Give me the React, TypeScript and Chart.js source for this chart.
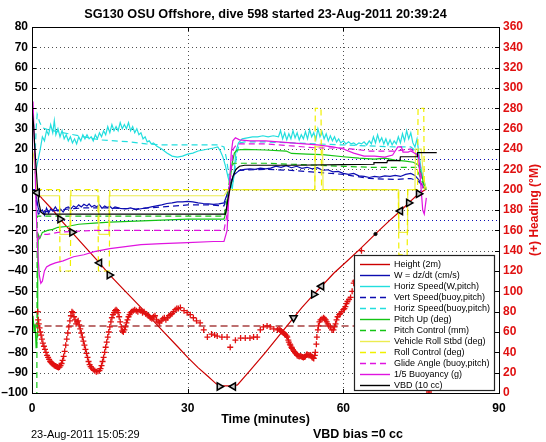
import { useEffect, useRef } from 'react';
import { Chart, registerables } from 'chart.js';

Chart.register(...registerables);

type P = [number, number];

const TITLE = 'SG130 OSU Offshore, dive 598 started 23-Aug-2011 20:39:24';
const X_TITLE = 'Time (minutes)';
const Y2_TITLE = '(+) Heading (\u00B0M)';
const FOOT_LEFT = '23-Aug-2011 15:05:29';
const FOOT_RIGHT = 'VBD bias =0 cc';

const X_TICKS = [0, 30, 60, 90];
const Y_RANGE = [-100, 80];
const Y_STEP = 10;
const Y2_RANGE = [0, 360];
const Y2_STEP = 20;

// Height (2 m units)
const HEIGHT_2M: P[] = [
  [0, 0], [0.5, -0.5], [1, -1.5], [2, -4.5], [4, -10], [5.4, -14.5], [7.7, -21], [10, -27.5], [13, -36], [15, -42],
  [18, -50], [21.4, -59], [25, -69], [28, -77], [30, -82.5], [32, -87.5], [34, -92], [35.5, -95.5], [36.5, -96.5],
  [38.5, -96.5], [39.6, -96], [42, -89], [45, -80], [48, -70.5], [50.4, -63], [52, -58], [54.3, -51.5], [55.8, -47.5],
  [58.2, -41], [61, -34.5], [63.3, -29], [66.5, -21], [69, -15], [71, -10.5], [72.6, -6.5], [74.5, -2], [75.8, 0],
];

const W_DZDT: P[] = [
  [0, 0], [0.5, 0], [0.8, -3], [1.2, -9], [1.5, -11], [2, -10], [2.4, -12.5], [2.8, -9], [3.2, -11.5], [3.6, -9.5],
  [4, -10.5], [4.5, -8.5], [5, -10.5], [5.5, -9.5], [6, -11], [6.5, -9], [7, -8.5], [7.5, -9.5], [8, -8], [8.5, -8.8],
  [9, -7.5], [9.5, -8.5], [10, -7.2], [10.6, -8], [11, -7], [11.5, -8.5], [12, -7.8], [12.5, -8.4], [13, -7.5],
  [13.5, -9.2], [14, -8], [14.5, -8.8], [15, -8.2], [15.5, -9.4], [16, -8.5], [17, -9.2], [18, -9.5], [19, -9],
  [20, -9.8], [21, -9.4], [22, -9], [23, -8.5], [24, -8], [25, -7.5], [26, -6.8], [27, -6.5], [28, -6], [29, -6],
  [30, -5.8], [31, -6], [32, -6.5], [33, -6.8], [34, -7], [35, -7.2], [36, -7], [37, -6.5], [37.5, -3], [38, 1],
  [38.5, 5], [39, 7.5], [39.5, 8.5], [40, 9.5], [41, 10], [42, 10.2], [43, 10], [44, 10.6], [45, 10.2], [46, 10.6],
  [47, 11.6], [48, 11], [49, 11.8], [50, 10.8], [51, 11.5], [52, 10.5], [53, 11], [54, 10.2], [55, 10.8], [56, 9.5],
  [57, 9.8], [58, 8.8], [59, 9], [60, 8], [61, 7.5], [62, 8], [63, 6.8], [64, 6.5], [65, 6], [66, 6.5], [67, 6.2],
  [68, 6.8], [69, 6.5], [70, 7], [71, 6.5], [72, 7.5], [73, 8], [73.8, 7], [74.5, 5], [75, 3], [75.5, 1], [76, 0],
];

const HSPD_W: P[] = [
  [0.5, 8], [0.8, 10], [1.2, 15], [1.6, 20], [2, 26], [2.4, 24], [2.8, 29], [3.2, 27], [3.6, 32], [4, 28], [4.3, 34],
  [4.6, 27], [5, 30], [5.4, 26], [5.8, 29], [6.2, 25], [6.6, 27], [7, 24], [7.4, 26], [7.8, 23], [8.2, 25], [8.6, 22.5],
  [9, 26], [9.4, 24], [9.8, 27], [10.2, 25], [10.6, 27], [11, 25], [11.4, 26], [11.8, 24], [12.2, 27], [12.6, 25],
  [13, 28], [13.4, 26], [13.8, 29], [14.2, 27], [14.6, 31], [15, 28], [15.4, 32], [15.8, 29], [16.2, 31], [16.6, 29],
  [17, 33], [17.4, 30], [17.8, 32], [18.2, 30], [18.6, 33], [19, 29], [19.4, 31], [19.8, 28], [20.2, 30], [20.6, 27],
  [21, 28], [21.4, 25], [21.8, 26], [22.2, 23.5], [22.6, 24], [23, 22.5], [23.4, 23], [24, 21.5], [25, 20], [26, 18],
  [27, 16.5], [28, 16], [29, 16.5], [30, 17.5], [31, 18], [32, 19], [33, 19.5], [34, 20], [35, 20.5], [35.8, 21],
  [36.3, 19], [36.8, 16], [37.3, 11.5], [37.8, 6], [38.3, 2], [38.6, 0.5], [39, 10], [39.3, 19], [39.8, 23], [40.5, 25],
  [41.5, 25.5], [42.5, 26], [43.5, 26], [44.5, 26.5], [45.5, 26], [46.5, 26.5], [47.5, 26], [47.9, 29], [48.3, 25],
  [48.7, 28], [49.1, 24.5], [49.5, 27.5], [49.9, 25], [50.3, 29], [50.7, 25.5], [51.1, 28], [51.5, 24.5], [51.9, 27],
  [52.3, 25], [52.7, 28.5], [53.1, 25], [53.5, 29.5], [53.9, 26], [54.3, 28], [54.7, 24.5], [55.1, 30], [55.5, 26],
  [55.9, 28.5], [56.3, 25], [56.7, 27.5], [57.1, 24], [57.5, 26.5], [57.9, 24], [58.3, 26], [58.7, 23.5], [59.1, 25],
  [59.5, 23], [60, 24], [60.5, 22.5], [61, 23.5], [61.5, 22.5], [62, 23], [62.5, 22], [63, 23], [63.5, 22.5], [64, 23.5],
  [64.5, 22], [65, 24], [65.4, 22.5], [65.8, 26], [66.2, 23], [66.6, 27], [67, 23.5], [67.4, 25.5], [67.8, 22.5],
  [68.2, 25], [68.6, 22], [69, 24.5], [69.4, 22], [69.8, 24], [70.2, 22.5], [70.6, 26], [71, 23], [71.4, 27.5], [71.8, 24],
  [72.2, 29], [72.6, 25], [73, 28], [73.4, 23], [73.8, 21], [74.2, 25], [74.6, 17], [75, 10], [75.4, 4], [75.8, 0],
];

const VSPD_BUOY: P[] = [
  [0.8, -5], [1.2, -12], [2, -11], [4, -10.5], [7, -9.5], [10, -9], [15, -9], [20, -9.5], [25, -8.5], [30, -7.5],
  [34, -7.5], [37, -8], [37.5, -4], [38.2, 3], [39, 8], [40, 9.5], [45, 10], [50, 9.5], [55, 8.5], [60, 7.5], [65, 5.5],
  [70, 5], [73, 5.5], [74.5, 4], [76, 0],
];

const HSPD_BUOY: P[] = [
  [0.5, 10], [0.8, 30], [1, 37], [1.5, 33], [2, 30.5], [3, 29.5], [5, 28.5], [8, 27], [10, 26], [13, 24.5], [16, 24],
  [19, 23.5], [22, 22.5], [25, 22], [30, 22], [34, 22], [36, 22], [37, 21], [37.5, 15], [38, 6], [38.6, 1], [39, 8],
  [39.5, 18], [40, 23], [41, 23.5], [45, 23.5], [50, 23], [55, 22.5], [60, 22], [65, 21.5], [70, 21], [73, 21],
  [74, 19], [75, 10], [76, 0],
];

const PITCH_UP: P[] = [
  [0.2, -62], [0.4, -70], [0.6, -66], [0.8, -78], [1, -72], [1.1, -40], [1.2, -22], [1.5, -24], [2, -21], [3, -20],
  [4, -19.5], [5, -18.5], [7, -18], [9, -17], [12, -16.5], [15, -16], [20, -15.5], [25, -15], [30, -14.5], [35, -14.5],
  [37, -14.5], [37.5, -10], [38, 0], [38.5, 12], [39, 18], [39.5, 19.5], [41, 19.8], [45, 19.5], [49, 19], [50, 17.8],
  [53, 17.5], [56, 17.2], [60, 16.2], [63, 15.5], [66, 15], [68, 15.5], [70, 14.5], [72, 14], [73.5, 13.5], [74.5, 12],
  [75.2, 6], [76, 0],
];

const PITCH_CTRL: P[] = [
  [0.2, -140], [0.9, -140], [1.0, -13], [5, -13], [10, -13], [20, -13], [30, -13], [37, -13], [37.6, -5], [38.2, 8],
  [38.8, 13], [45, 13], [50, 12.5], [55, 12], [60, 11.5], [65, 11], [70, 11], [74, 11], [75, 5], [76, 0],
];

const ROLL_STBD: P[] = [
  [0, 20], [0.3, 17], [0.5, 12], [0.8, 3], [1, -3], [2, -3], [4, -3], [5.3, -3], [5.4, -22], [7.3, -22], [7.4, -3],
  [12.8, -3], [12.9, -22], [14.8, -22], [14.9, -3], [20, -3], [25, -3], [30, -3], [37, -3], [37.8, 0], [45, 0],
  [54.5, 0], [54.6, 21], [56, 21], [56.1, 0], [65, 0], [70.6, 0], [70.7, -21], [72.3, -21], [72.4, 0], [73.8, 0],
  [73.9, 20], [75, 20], [75.5, 5], [76, 0],
];

const ROLL_CTRL: P[] = [
  [0.8, 0], [5.3, 0], [5.4, -40], [7.4, -40], [7.5, 0], [12.7, 0], [12.8, -40], [14.9, -40], [15, 0], [37, 0],
  [54.5, 0], [54.6, 40], [55.7, 40], [55.8, 0], [70.6, 0], [70.7, -32], [72.3, -32], [72.4, 0], [74.3, 0],
  [74.4, 40], [75.5, 40], [75.6, 0],
];

const GLIDE_ANGLE: P[] = [
  [1, -25], [1.5, -23], [2, -22], [3, -22], [5, -21], [8, -20.5], [12, -20], [20, -20], [30, -20], [37, -20],
  [37.6, -12], [38.2, 5], [38.8, 20], [39.5, 22.5], [45, 22.5], [50, 21.5], [55, 20.5], [60, 20.5], [65, 19],
  [70, 19], [73, 20], [74.5, 17], [75.3, 0],
];

const BUOYANCY_5: P[] = [
  [0, 44], [0.2, 43], [0.5, 20], [0.8, -10], [1.1, -30], [1.4, -42], [1.7, -46], [2, -45], [2.4, -40], [2.8, -38],
  [3.5, -37], [4.5, -36], [6, -35], [8, -33], [10, -32], [12, -30.5], [15, -29], [18, -28], [21, -27], [25, -26.5],
  [30, -26], [35, -25.5], [37, -25.5], [37.6, -20], [38, 0], [38.4, 18], [38.7, 24], [39.2, 25.5], [40, 24.5],
  [42, 24], [45, 24], [50, 23], [55, 22], [58, 21], [60, 20], [62, 18], [64, 16.5], [66, 16.5], [68, 16], [69.5, 17],
  [70, 19], [70.5, 21], [71.2, 21], [71.5, 18.5], [72.5, 18.5], [73, 19], [74, 17.5], [74.5, 16], [75, 0],
  [75.3, -10], [75.6, -12], [76, -4],
];

const VBD_10CC: P[] = [
  [0, 40], [0.3, 32], [0.6, 18], [1, 3], [1.3, -6], [1.7, -11], [2.2, -12], [10, -12], [20, -12], [30, -12], [37, -12],
  [37.3, -12], [37.8, -4], [38.3, 2], [38.8, 7], [39.3, 10], [40, 11.5], [41, 12], [50, 12], [60, 12.3], [65.8, 12.5],
  [65.9, 13.3], [68.4, 13.3], [68.5, 14.3], [70.9, 14.3], [71, 16.2], [74.2, 16.2], [74.3, 18.2], [78, 18.2],
];

const W_TARGET = [15, -15];
const HEADING_TARGET = 66;
const HEADING_SPAN = [0.3, 76];

const HEADING: P[] = [
  [1.1, 80], [1.2, 72], [1.3, 68], [1.45, 64], [1.6, 60], [1.75, 57], [1.9, 53], [2.1, 49], [2.3, 46], [2.5, 43],
  [2.7, 40], [2.9, 37], [3.1, 35], [3.3, 33], [3.5, 31], [3.7, 30], [3.9, 29], [4.1, 28], [4.3, 27], [4.5, 26.5],
  [4.7, 26], [4.9, 25.5], [5.1, 25], [5.3, 25.5], [5.5, 27], [5.7, 29], [5.9, 32], [6.1, 36], [6.3, 41], [6.5, 47],
  [6.7, 53], [6.9, 59], [7.1, 65], [7.3, 71], [7.5, 76], [7.7, 80], [7.9, 79], [8.1, 75], [8.3, 72], [8.5, 68],
  [8.7, 70], [8.9, 71], [9.1, 67], [9.3, 63], [9.5, 59], [9.7, 55], [9.9, 51], [10.1, 47], [10.3, 43], [10.5, 39],
  [10.7, 35], [10.9, 31], [11.1, 28], [11.3, 26], [11.5, 24.5], [11.8, 23], [12.1, 22], [12.4, 21], [12.7, 21.5],
  [13, 22], [13.2, 24], [13.4, 27], [13.6, 31], [13.8, 35], [14, 40], [14.2, 45], [14.4, 50], [14.6, 55], [14.8, 60],
  [15, 65], [15.2, 70], [15.4, 74], [15.6, 77], [15.8, 79], [16, 81], [16.2, 82], [16.4, 81], [16.6, 79], [16.8, 75],
  [17, 70], [17.2, 65], [17.4, 61], [17.6, 60], [17.8, 62], [18, 65], [18.2, 69], [18.4, 72], [18.6, 75], [18.8, 77],
  [19, 79], [19.2, 80], [19.5, 81], [19.8, 82], [20.1, 81], [20.4, 80], [20.7, 82], [21, 81], [21.3, 79], [21.6, 80],
  [21.9, 78], [22.2, 77], [22.5, 76], [22.8, 74], [23.1, 73], [23.4, 75], [23.7, 76], [24, 72], [24.3, 70], [24.6, 69],
  [24.9, 71], [25.2, 73], [25.5, 74], [25.8, 72], [26.1, 74], [26.4, 76], [26.7, 77], [27, 78], [27.3, 80], [27.6, 82],
  [27.9, 83], [28.2, 83], [28.6, 84], [29.3, 81], [29.9, 79], [30.5, 77], [31.1, 74], [31.7, 71], [32.4, 69],
  [33.1, 62], [33.8, 55], [34.6, 58], [35.2, 57], [35.7, 56], [36.6, 55], [37.6, 55], [38.2, 45], [39.2, 52],
  [40.2, 54], [41.1, 54], [42, 54], [42.7, 55], [43.4, 55], [44, 62], [44.6, 65], [45.3, 66], [45.9, 65], [46.6, 63],
  [47.3, 62], [47.6, 63], [47.8, 62], [48, 61], [48.2, 60], [48.4, 59.5], [48.5, 59], [48.7, 58], [48.9, 57],
  [49.1, 56], [49.2, 55], [49.4, 52], [49.5, 50], [49.7, 48], [49.8, 47], [50, 45], [50.1, 44], [50.3, 42.5],
  [50.5, 41], [50.7, 40], [50.8, 39], [51, 38], [51.1, 37], [51.3, 36.5], [51.5, 36], [51.7, 36.5], [51.9, 36],
  [52.1, 35.5], [52.3, 35], [52.5, 35.5], [52.7, 36], [52.9, 37.5], [53, 38], [53.2, 37.5], [53.4, 37], [53.6, 37.5],
  [53.7, 37], [53.9, 36], [54, 35], [54.2, 34.5], [54.3, 34], [54.5, 37], [54.6, 40], [54.8, 48], [54.9, 55],
  [55.1, 62], [55.2, 66], [55.4, 70], [55.6, 72], [55.9, 73], [56.2, 74], [56.4, 73], [56.6, 72], [56.8, 70], [57, 68],
  [57.2, 66], [57.5, 65], [57.8, 62], [58.1, 62], [58.3, 65], [58.5, 68], [58.7, 72], [58.9, 75], [59.2, 77],
  [59.4, 78], [59.7, 80], [60, 82], [60.2, 83], [60.4, 85], [60.6, 88], [60.8, 90], [61.1, 92], [61.4, 94], [61.7, 100],
  [62, 108], [62.2, 110], [62.4, 111], [62.6, 115], [62.8, 120], [63, 126], [63.2, 132], [63.5, 140], [76.5, 1],
];

// depth markers on the height trace: [time, value, rotation]
const MARKERS: [number, number, number][] = [
  [1, -1.5, -90], [5.4, -14.5, 90], [7.7, -21, 90], [13, -36, -90], [14.9, -42, 90], [36.1, -96.8, 90],
  [38.8, -96.8, -90], [50.4, -63, 180], [54.3, -51.5, 90], [55.8, -47.5, -90], [71, -10.5, -90], [72.6, -6.5, 90],
  [74.5, -2, 90],
];
const DOTS: P[] = [[66.2, -21.8]];

const FONT = '"Liberation Sans", Arial, Helvetica, sans-serif';
const RED = '#cc0000';
const HEAD_RED = '#e01010';
const NAVY = '#0c0cb0';
const CYAN = '#22dede';
const GREEN = '#14c414';
const YELLOW = '#f0f000';
const YELLOW_PALE = '#ecec50';
const MAGENTA = '#e014e0';
const DASH = [6, 4];

const xy = (arr: P[]) => arr.map(([x, y]) => ({ x, y }));

function series(label: string, data: P[], color: string, dashed: boolean, legend = true) {
  return {
    type: 'line' as const,
    label,
    data: xy(data),
    borderColor: color,
    backgroundColor: color,
    borderWidth: 1.2,
    borderDash: dashed ? DASH : [],
    pointRadius: 0,
    tension: 0,
    fill: false,
    yAxisID: 'y',
    inLegend: legend,
  };
}

const framePlugin = {
  id: 'frameAndText',
  beforeDatasetsDraw(chart: any) {
    const { ctx, chartArea: a, scales } = chart;
    ctx.save();
    ctx.strokeStyle = '#505050';
    ctx.lineWidth = 1;
    ctx.setLineDash([1, 3]);
    ctx.beginPath();
    for (const v of X_TICKS) {
      if (v <= X_TICKS[0] || v >= X_TICKS[X_TICKS.length - 1]) continue;
      const px = Math.round(scales.x.getPixelForValue(v)) + 0.5;
      ctx.moveTo(px, a.top);
      ctx.lineTo(px, a.bottom);
    }
    for (let v = Y_RANGE[0] + Y_STEP; v < Y_RANGE[1]; v += Y_STEP) {
      const py = Math.round(scales.y.getPixelForValue(v)) + 0.5;
      ctx.moveTo(a.left, py);
      ctx.lineTo(a.right, py);
    }
    ctx.stroke();
    // W target lines
    ctx.strokeStyle = NAVY;
    ctx.setLineDash([1, 3]);
    ctx.beginPath();
    for (const v of W_TARGET) {
      const py = Math.round(scales.y.getPixelForValue(v)) + 0.5;
      ctx.moveTo(a.left, py);
      ctx.lineTo(a.right, py);
    }
    ctx.stroke();
    ctx.restore();
  },
  afterDraw(chart: any) {
    const { ctx, chartArea: a, scales } = chart;
    ctx.save();
    // frame
    ctx.setLineDash([]);
    ctx.strokeStyle = '#000';
    ctx.lineWidth = 1;
    ctx.strokeRect(Math.round(a.left) + 0.5, Math.round(a.top) + 0.5, Math.round(a.right - a.left), Math.round(a.bottom - a.top));
    // inward ticks
    ctx.beginPath();
    for (let v = Y_RANGE[0]; v <= Y_RANGE[1]; v += Y_STEP) {
      const py = Math.round(scales.y.getPixelForValue(v)) + 0.5;
      ctx.moveTo(a.left, py); ctx.lineTo(a.left + 4, py);
      ctx.moveTo(a.right, py); ctx.lineTo(a.right - 4, py);
    }
    for (const v of X_TICKS) {
      const px = Math.round(scales.x.getPixelForValue(v)) + 0.5;
      ctx.moveTo(px, a.bottom); ctx.lineTo(px, a.bottom - 4);
      ctx.moveTo(px, a.top); ctx.lineTo(px, a.top + 4);
    }
    ctx.stroke();

    // legend
    const items = chart.data.datasets.filter((d: any) => d.inLegend);
    const lx = a.right - 145;
    const ly = a.bottom - 138;
    const lw = 140;
    const lh = 135;
    ctx.fillStyle = '#fff';
    ctx.fillRect(lx, ly, lw, lh);
    ctx.strokeStyle = '#222';
    ctx.lineWidth = 1.2;
    ctx.strokeRect(lx + 0.5, ly + 0.5, lw, lh);
    ctx.font = `9px ${FONT}`;
    ctx.textBaseline = 'middle';
    ctx.textAlign = 'left';
    items.forEach((d: any, i: number) => {
      const yy = ly + 9.5 + i * 11;
      ctx.strokeStyle = d.borderColor;
      ctx.lineWidth = 1.4;
      ctx.setLineDash(d.borderDash || []);
      ctx.beginPath();
      ctx.moveTo(lx + 6, yy);
      ctx.lineTo(lx + 36, yy);
      ctx.stroke();
      ctx.setLineDash([]);
      ctx.fillStyle = '#000';
      ctx.fillText(d.label, lx + 40, yy + 0.5);
    });

    // texts
    const cx = (a.left + a.right) / 2;
    ctx.fillStyle = '#000';
    ctx.textAlign = 'center';
    ctx.textBaseline = 'middle';
    ctx.font = `bold 12.7px ${FONT}`;
    ctx.fillText(TITLE, cx, 14);
    ctx.font = `bold 12.5px ${FONT}`;
    ctx.fillText(X_TITLE, cx, 420);
    ctx.textAlign = 'left';
    ctx.fillText(FOOT_RIGHT, 313, 435);
    ctx.font = `11px ${FONT}`;
    ctx.fillText(FOOT_LEFT, 31, 435);
    ctx.save();
    ctx.translate(535, (a.top + a.bottom) / 2);
    ctx.rotate(-Math.PI / 2);
    ctx.textAlign = 'center';
    ctx.fillStyle = HEAD_RED;
    ctx.font = `bold 12px ${FONT}`;
    ctx.fillText(Y2_TITLE, 0, 0);
    ctx.restore();
    ctx.restore();
  },
};

export default function App() {
  const ref = useRef<HTMLCanvasElement | null>(null);
  useEffect(() => {
    if (!ref.current) return;
    const drawList: any[] = [
      {
        type: 'line', label: 'Heading target',
        data: xy([[HEADING_SPAN[0], HEADING_TARGET], [HEADING_SPAN[1], HEADING_TARGET]]),
        borderColor: '#a84040', borderWidth: 1.5, borderDash: [7, 4], pointRadius: 0, yAxisID: 'y2', inLegend: false,
      },
      series('Height (2m)', HEIGHT_2M, RED, false),
      series('W = dz/dt (cm/s)', W_DZDT, NAVY, false),
      series('Horiz Speed(W,pitch)', HSPD_W, CYAN, false),
      series('Vert Speed(buoy,pitch)', VSPD_BUOY, NAVY, true),
      series('Horiz Speed(buoy,pitch)', HSPD_BUOY, CYAN, true),
      series('Pitch Up (deg)', PITCH_UP, GREEN, false),
      series('Pitch Control (mm)', PITCH_CTRL, GREEN, true),
      series('Vehicle Roll Stbd (deg)', ROLL_STBD, YELLOW_PALE, false),
      series('Roll Control (deg)', ROLL_CTRL, YELLOW, true),
      series('Glide Angle (buoy,pitch)', GLIDE_ANGLE, MAGENTA, true),
      series('1/5 Buoyancy (g)', BUOYANCY_5, MAGENTA, false),
      series('VBD (10 cc)', VBD_10CC, '#000000', false),
      {
        type: 'line', label: 'Heading', data: xy(HEADING), showLine: false, yAxisID: 'y2',
        pointStyle: 'cross', pointRadius: 3, pointBorderColor: HEAD_RED, pointBorderWidth: 1.3,
        borderColor: HEAD_RED, inLegend: false,
      },
      {
        type: 'line', label: 'Dots', data: xy(DOTS), showLine: false, yAxisID: 'y',
        pointStyle: 'circle', pointRadius: 1.6, pointBackgroundColor: '#000', pointBorderColor: '#000', inLegend: false,
      },
      {
        type: 'line', label: 'Markers', data: MARKERS.map(([x, y]) => ({ x, y })), showLine: false, yAxisID: 'y',
        pointStyle: 'triangle', pointRadius: 4.2, pointRotation: MARKERS.map((m) => m[2]),
        pointBackgroundColor: '#c8c8c8', pointBorderColor: '#000', pointBorderWidth: 1.5, inLegend: false,
      },
    ];
    const n = drawList.length;
    drawList.forEach((d, i) => { d.order = n - i; });

    const tickFont = { family: FONT, size: 12, weight: 'bold' as const };
    const chart = new Chart(ref.current, {
      type: 'line',
      data: { datasets: drawList },
      plugins: [framePlugin],
      options: {
        animation: false,
        responsive: false,
        maintainAspectRatio: false,
        events: [],
        layout: { padding: { top: 27, left: 0, right: 0, bottom: 0 } },
        plugins: { legend: { display: false }, tooltip: { enabled: false }, title: { display: false } },
        scales: {
          x: {
            type: 'linear', min: X_TICKS[0], max: X_TICKS[X_TICKS.length - 1],
            afterBuildTicks: (s: any) => { s.ticks = X_TICKS.map((v) => ({ value: v })); },
            ticks: { font: tickFont, color: '#000', padding: 8, maxRotation: 0, autoSkip: false },
            grid: { display: false, drawTicks: false },
            border: { display: false },
            afterFit: (s: any) => { s.height = 49; },
          },
          y: {
            type: 'linear', position: 'left', min: Y_RANGE[0], max: Y_RANGE[1],
            ticks: {
              stepSize: Y_STEP, font: tickFont, color: '#000', padding: 4,
              callback: (v: any) => String(v).replace('-', '\u2013'),
            },
            grid: { display: false, drawTicks: false },
            border: { display: false },
            afterFit: (s: any) => { s.width = 32; },
          },
          y2: {
            type: 'linear', position: 'right', min: Y2_RANGE[0], max: Y2_RANGE[1],
            ticks: { stepSize: Y2_STEP, font: tickFont, color: HEAD_RED, padding: 4 },
            grid: { display: false, drawTicks: false },
            border: { display: false },
            afterFit: (s: any) => { s.width = 47; },
          },
        },
      } as any,
    });
    return () => chart.destroy();
  }, []);

  return (
    <div style={{ position: 'fixed', left: 0, top: 0, width: 546, height: 442, background: '#fff' }}>
      <canvas ref={ref} width={546} height={442} style={{ display: 'block', width: 546, height: 442 }} />
    </div>
  );
}
